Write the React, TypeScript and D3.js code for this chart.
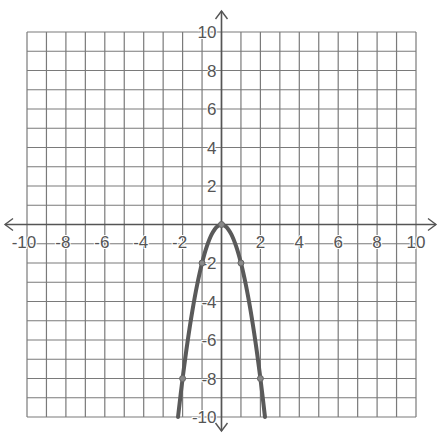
import React from "react";
import * as d3 from "d3";

const xTicks = [-10, -8, -6, -4, -2, 2, 4, 6, 8, 10];
const yTicks = [-10, -8, -6, -4, -2, 2, 4, 6, 8, 10];
const gridValues = d3.range(-10, 11);
const curveXs = [-2.236, -2, -1.75, -1.5, -1.25, -1, -0.75, -0.5, -0.25, 0, 0.25, 0.5, 0.75, 1, 1.25, 1.5, 1.75, 2, 2.236];
const coefA = -2;
const markedPoints: [number, number][] = [[-2, -8], [-1, -2], [0, 0], [1, -2], [2, -8]];

export default function App() {
  const W = 440, H = 435;
  const x = d3.scaleLinear().domain([-10, 10]).range([27, 416]);
  const y = d3.scaleLinear().domain([-10, 10]).range([417, 32]);
  const x0 = x(0), y0 = y(0);
  const line = d3.line<number>().x(d => x(d)).y(d => y(coefA * d * d)).curve(d3.curveCatmullRom);
  const gridColor = "#7a7a7a";
  const axisColor = "#555";
  const textColor = "#555";
  return (
    <svg width={W} height={H} style={{ position: "absolute", left: 0, top: 0, background: "#fff" }}
      fontFamily="Liberation Sans, Arial, sans-serif">
      {gridValues.map(v => (
        <line key={"gx" + v} x1={x(v)} x2={x(v)} y1={y(10)} y2={y(-10)} stroke={gridColor} strokeWidth={1.2} />
      ))}
      {gridValues.map(v => (
        <line key={"gy" + v} x1={x(-10)} x2={x(10)} y1={y(v)} y2={y(v)} stroke={gridColor} strokeWidth={1.2} />
      ))}
      {/* axes */}
      <line x1={5} x2={436} y1={y0} y2={y0} stroke={axisColor} strokeWidth={1.6} />
      <line x1={x0} x2={x0} y1={11} y2={431} stroke={axisColor} strokeWidth={1.6} />
      <polyline points={`${13},${y0 - 6} ${5},${y0} ${13},${y0 + 6}`} fill="none" stroke={axisColor} strokeWidth={1.4} />
      <polyline points={`${428},${y0 - 6} ${436},${y0} ${428},${y0 + 6}`} fill="none" stroke={axisColor} strokeWidth={1.4} />
      <polyline points={`${x0 - 6},${19} ${x0},${11} ${x0 + 6},${19}`} fill="none" stroke={axisColor} strokeWidth={1.4} />
      <polyline points={`${x0 - 6},${423} ${x0},${431} ${x0 + 6},${423}`} fill="none" stroke={axisColor} strokeWidth={1.4} />
      {/* tick labels */}
      {xTicks.map(v => (
        <text key={"xt" + v} x={x(v) - (v < 0 ? 3 : 0)} y={y0 + 23} textAnchor="middle" fontSize={17}
          fill={textColor} stroke="#fff" strokeWidth={2} paintOrder="stroke">{v}</text>
      ))}
      {yTicks.map(v => (
        <text key={"yt" + v} x={x0 - 5} y={y(v) + 6} textAnchor="end" fontSize={17}
          fill={textColor} stroke="#fff" strokeWidth={2} paintOrder="stroke">{v}</text>
      ))}
      {/* curve */}
      <path d={line(curveXs) || ""} fill="none" stroke="#5a5a5a" strokeWidth={4} strokeLinecap="round" />
      {markedPoints.map(([px, py], i) => (
        <circle key={"p" + i} cx={x(px)} cy={y(py)} r={3} fill="#888" stroke="#666" strokeWidth={1} />
      ))}
    </svg>
  );
}
